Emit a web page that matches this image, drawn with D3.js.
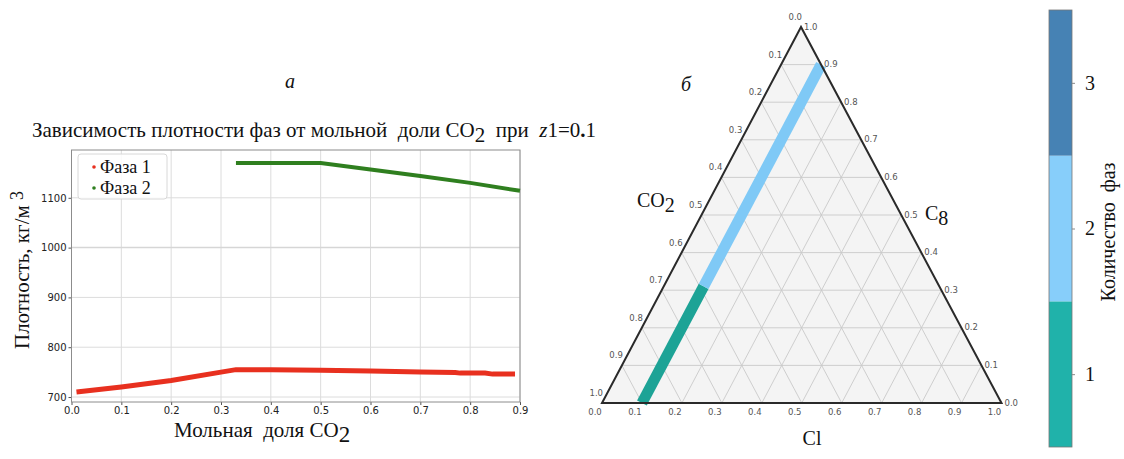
<!DOCTYPE html>
<html><head><meta charset="utf-8">
<script src="https://cdn.jsdelivr.net/npm/d3@7"></script>
<style>body{margin:0;background:#fff}svg{display:block}text{white-space:pre}</style>
</head><body>
<svg id="c" width="1124" height="459"></svg>
<script>
// ---- data: left chart ----
const xTicks = [0,0.1,0.2,0.3,0.4,0.5,0.6,0.7,0.8,0.9];
const yTicks = [700,800,900,1000,1100];
const phase1X = [0.01,0.1,0.2,0.3,0.33,0.4,0.5,0.6,0.7,0.77,0.78,0.83,0.845,0.89];
const phase1Y = [710,720,733,750,755,755,754,752,750,749,748,748,746,746];
const phase2X = [0.33,0.5,0.6,0.7,0.8,0.9];
const phase2Y = [1170,1170,1157,1144,1130,1114];
const seriesNames = ["Фаза 1","Фаза 2"];
// ---- data: ternary ----
const ternTicks = [0,0.1,0.2,0.3,0.4,0.5,0.6,0.7,0.8,0.9,1.0];
const bandCl = 0.1;
const bandC8 = [0.0, 0.31, 0.9];
const bandPhases = [1, 2];
const phaseLevels = [1,2,3];
const phaseColors = ["#20b2aa","#87cefa","#4682b4"];

const svg = d3.select("#c");
const serif = "Liberation Serif, Times New Roman, serif";
const sans = "DejaVu Sans, sans-serif";

// ---------- LEFT CHART ----------
const x = d3.scaleLinear([0,0.9],[71.5,520]);
const y = d3.scaleLinear([690,1196],[402,150]);
const g = svg.append("g");
g.selectAll(".vg").data(xTicks).join("line").attr("x1",d=>x(d)).attr("x2",d=>x(d)).attr("y1",150).attr("y2",402)
  .attr("stroke","#dcdcdc").attr("stroke-width",1);
g.selectAll(".hg").data(yTicks).join("line").attr("y1",d=>y(d)).attr("y2",d=>y(d)).attr("x1",71.5).attr("x2",520)
  .attr("stroke",d=>d===1000?"#d6d6d6":"#dcdcdc").attr("stroke-width",d=>d===1000?1.5:1);
const xa = g.append("g").attr("transform","translate(0,402)").call(d3.axisBottom(x).tickValues(xTicks).tickFormat(d3.format(".1f")).tickSize(3).tickPadding(2));
const ya = g.append("g").attr("transform","translate(71.5,0)").call(d3.axisLeft(y).tickValues(yTicks).tickFormat(d3.format("d")).tickSize(3).tickPadding(2));
[xa,ya].forEach(a=>{a.select(".domain").remove();a.selectAll("line").attr("stroke","#555");
  a.selectAll("text").attr("font-family",sans).attr("font-size",10).attr("fill","#222");});
g.append("rect").attr("x",71.5).attr("y",150).attr("width",448.5).attr("height",252).attr("fill","none").attr("stroke","#8c8c8c").attr("stroke-width",1);
const line = d3.line().x(d=>x(d[0])).y(d=>y(d[1]));
g.append("path").datum(phase2X.map((v,i)=>[v,phase2Y[i]])).attr("d",line).attr("fill","none").attr("stroke","#2f7f1f").attr("stroke-width",4);
g.append("path").datum(phase1X.map((v,i)=>[v,phase1Y[i]])).attr("d",line).attr("fill","none").attr("stroke","#e8301f").attr("stroke-width",5);
// legend
g.append("rect").attr("x",78).attr("y",154).attr("width",89).attr("height",45).attr("rx",3).attr("fill","#fff").attr("fill-opacity",0.85).attr("stroke","#d8d8d8");
const legCols = ["#e8301f","#2f7f1f"];
seriesNames.forEach((n,i)=>{
  g.append("circle").attr("cx",94).attr("cy",167+i*21).attr("r",1.8).attr("fill",legCols[i]);
  g.append("text").attr("x",100).attr("y",173+i*21).attr("font-family",serif).attr("font-size",18).attr("fill","#111").text(n);
});
// axis labels
const xl = svg.append("text").attr("x",174).attr("y",437).attr("font-family",serif).attr("font-size",21).attr("fill","#111");
xl.append("tspan").text("Мольная  доля CO");
xl.append("tspan").attr("dy",5).attr("font-size",23).text("2");
const yl = svg.append("text").attr("transform","translate(29,270) rotate(-90)").attr("text-anchor","middle").attr("font-family",serif).attr("font-size",21).attr("fill","#111");
yl.append("tspan").text("Плотность, кг/м ");
yl.append("tspan").attr("dy",-6).attr("font-size",18).text("3");
// title
const tt = svg.append("text").attr("x",32).attr("y",137).attr("font-family",serif).attr("font-size",21).attr("fill","#111");
tt.append("tspan").text("Зависимость плотности фаз от мольной  доли CO");
tt.append("tspan").attr("dy",5).attr("font-size",21).text("2");
tt.append("tspan").attr("dy",-5).text("  при  ");
tt.append("tspan").attr("font-style","italic").text("z");
tt.append("tspan").text("1=0");
tt.append("tspan").attr("font-weight","bold").text(".");
tt.append("tspan").text("1");
svg.append("text").attr("x",290).attr("y",88).attr("text-anchor","middle").attr("font-family",serif).attr("font-style","italic").attr("font-size",20).attr("fill","#111").text("а");
svg.append("text").attr("x",686).attr("y",91).attr("text-anchor","middle").attr("font-family",serif).attr("font-style","italic").attr("font-size",20).attr("fill","#111").text("б");

// ---------- TERNARY ----------
const TOP=[801,27], BL=[602,403], BR=[1001.5,403];
function P(co2,cl,c8){return [co2*BL[0]+cl*BR[0]+c8*TOP[0], co2*BL[1]+cl*BR[1]+c8*TOP[1]];}
const t = svg.append("g");
t.append("path").attr("d",`M${TOP}L${BL}L${BR}Z`).attr("fill","#f4f4f4");
const inner = ternTicks.slice(1,-1);
const gl = [];
inner.forEach(v=>{
  gl.push([P(1-v,0,v),P(0,1-v,v)]);
  gl.push([P(1-v,v,0),P(0,v,1-v)]);
  gl.push([P(v,1-v,0),P(v,0,1-v)]);
});
t.selectAll(".gl").data(gl).join("line").attr("x1",d=>d[0][0]).attr("y1",d=>d[0][1]).attr("x2",d=>d[1][0]).attr("y2",d=>d[1][1])
  .attr("stroke","#c9c9c9").attr("stroke-width",0.9);
const segs = bandPhases.map((ph,i)=>({ph, a:P(1-bandCl-bandC8[i],bandCl,bandC8[i]), b:P(1-bandCl-bandC8[i+1],bandCl,bandC8[i+1])}));
const colorOf = d3.scaleOrdinal(phaseLevels, phaseColors);
t.selectAll(".band").data(segs).join("line").attr("x1",d=>d.a[0]).attr("y1",d=>d.a[1]).attr("x2",d=>d.b[0]).attr("y2",d=>d.b[1])
  .attr("stroke",d=>d.ph===1?"#1da396":"#7fc9f6").attr("stroke-width",11).attr("stroke-linecap","butt");
t.append("path").attr("d",`M${TOP}L${BL}L${BR}Z`).attr("fill","none").attr("stroke","#2a2a2a").attr("stroke-width",2).attr("stroke-linejoin","miter");
const tl = {"font-family":sans,"font-size":8.5,"fill":"#555"};
function lab(sel){Object.entries(tl).forEach(([k,v])=>sel.attr(k,v));return sel;}
ternTicks.forEach(v=>{
  const pl = P(v,0,1-v);
  lab(t.append("text")).attr("x",pl[0]+1).attr("y",pl[1]-7).attr("text-anchor","end").text(v.toFixed(1));
  const pr = P(0,1-v,v);
  lab(t.append("text")).attr("x",pr[0]+3).attr("y",pr[1]+2.5).attr("text-anchor","start").text(v.toFixed(1));
  const pb = P(1-v,v,0);
  lab(t.append("text")).attr("x",pb[0]-7).attr("y",pb[1]+12).attr("text-anchor","middle").text(v.toFixed(1));
});
const a1 = svg.append("text").attr("x",637).attr("y",207).attr("font-family",serif).attr("font-size",20).attr("fill","#111");
a1.append("tspan").text("CO"); a1.append("tspan").attr("dy",5).attr("font-size",20).text("2");
const a2 = svg.append("text").attr("x",925).attr("y",220).attr("font-family",serif).attr("font-size",20).attr("fill","#111");
a2.append("tspan").text("C"); a2.append("tspan").attr("dy",5).attr("font-size",20).text("8");
svg.append("text").attr("x",812).attr("y",445).attr("text-anchor","middle").attr("font-family",serif).attr("font-size",20).attr("fill","#111").text("Cl");

// ---------- COLORBAR ----------
const cy = d3.scaleLinear([0.5,3.5],[447,10]);
const cb = svg.append("g");
cb.selectAll("rect").data(phaseLevels).join("rect").attr("x",1049).attr("width",23)
  .attr("y",d=>cy(d+0.5)).attr("height",d=>cy(d-0.5)-cy(d+0.5)).attr("fill",d=>colorOf(d));
cb.append("rect").attr("x",1049).attr("y",10).attr("width",23).attr("height",437).attr("fill","none").attr("stroke","#777").attr("stroke-width",0.8);
const cax = cb.append("g").attr("transform","translate(1072,0)").call(d3.axisRight(cy).tickValues(phaseLevels).tickFormat(d3.format("d")).tickSize(3).tickPadding(10));
cax.select(".domain").remove();
cax.selectAll("line").attr("stroke","#888");
cax.selectAll("text").attr("font-family",serif).attr("font-size",20).attr("fill","#111");
svg.append("text").attr("transform","translate(1115,232) rotate(-90)").attr("text-anchor","middle").attr("font-family",serif).attr("font-size",20).attr("fill","#111").text("Количество  фаз");
</script>
</body></html>
